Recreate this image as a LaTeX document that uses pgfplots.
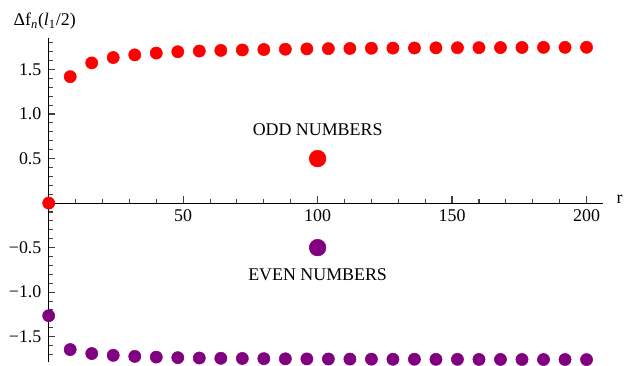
\documentclass[border=0pt]{standalone}
\usepackage{fontspec}
\setmainfont{Liberation Serif}
\usepackage{pgfplots}
\pgfplotsset{compat=1.18}
\definecolor{oddred}{RGB}{255,0,0}
\definecolor{evenpurple}{RGB}{128,0,128}
\newcommand{\chartfont}{\fontsize{13.5}{15}\selectfont}
\begin{document}
\begin{tikzpicture}[font=\chartfont]
\begin{axis}[
  scale only axis,
  width=418pt, height=245pt,
  xmin=0, xmax=206,
  ymin=-1.79, ymax=1.857,
  axis x line=middle,
  axis y line=left,
  axis line style={-, line width=0.7pt},
  clip=false,
  xtick={50,100,150,200},
  xticklabels={50,100,150,200},
  minor xtick={10,20,30,40,60,70,80,90,110,120,130,140,160,170,180,190},
  ytick={-1.5,-1,-0.5,0.5,1,1.5},
  yticklabels={−1.5,−1.0,−0.5,0.5,1.0,1.5},
  minor ytick={-1.7,-1.6,-1.4,-1.3,-1.2,-1.1,-0.9,-0.8,-0.7,-0.6,-0.4,-0.3,-0.2,-0.1,0.1,0.2,0.3,0.4,0.6,0.7,0.8,0.9,1.1,1.2,1.3,1.4,1.6,1.7,1.8},
  tick align=inside,
  major tick length=5pt,
  minor tick length=3pt,
  major tick style={draw=black!75, line width=0.9pt},
  minor tick style={draw=black!75, line width=0.8pt},
  tick label style={font=\chartfont},
  xticklabel style={yshift=-1pt},
  yticklabel style={xshift=-2pt},
]
% odd n
\addplot[only marks, mark=*, mark size=4.6pt, color=oddred] coordinates {
  (0,0)(8,1.42)(16,1.575)(24,1.635)(32,1.665)(40,1.685)(48,1.70)(56,1.708)
  (64,1.715)(72,1.72)(80,1.725)(88,1.728)(96,1.732)(104,1.735)(112,1.737)
  (120,1.739)(128,1.741)(136,1.742)(144,1.744)(152,1.745)(160,1.746)
  (168,1.747)(176,1.748)(184,1.749)(192,1.749)(200,1.75)
};
% even n
\addplot[only marks, mark=*, mark size=4.6pt, color=evenpurple] coordinates {
  (0,-1.265)(8,-1.645)(16,-1.69)(24,-1.71)(32,-1.722)(40,-1.73)(48,-1.736)
  (56,-1.74)(64,-1.743)(72,-1.745)(80,-1.747)(88,-1.749)(96,-1.75)(104,-1.751)
  (112,-1.752)(120,-1.753)(128,-1.754)(136,-1.754)(144,-1.755)(152,-1.755)
  (160,-1.756)(168,-1.756)(176,-1.757)(184,-1.757)(192,-1.757)(200,-1.758)
};
% legend markers
\addplot[only marks, mark=*, mark size=6.3pt, color=oddred] coordinates {(100,0.5)};
\addplot[only marks, mark=*, mark size=6.3pt, color=evenpurple] coordinates {(100,-0.5)};
\node[font=\chartfont] at (axis cs:100,0.82) {ODD NUMBERS};
\node[font=\chartfont] at (axis cs:100,-0.80) {EVEN NUMBERS};
\node[anchor=base west, font=\chartfont, xshift=7pt] at (axis cs:206,0) {r};
\node[anchor=base west, font=\chartfont, xshift=-30pt, yshift=9pt] at (axis description cs:0,1)
  {Δf\textsubscript{\textit{n}}(\textit{l}\textsubscript{1}/2)};
\end{axis}
% keep the margins of the reference
\path (current axis.south west) ++(-36.75pt,-1.5pt);
\path (current axis.north west) ++(0,28.5pt);
\end{tikzpicture}
\end{document}
